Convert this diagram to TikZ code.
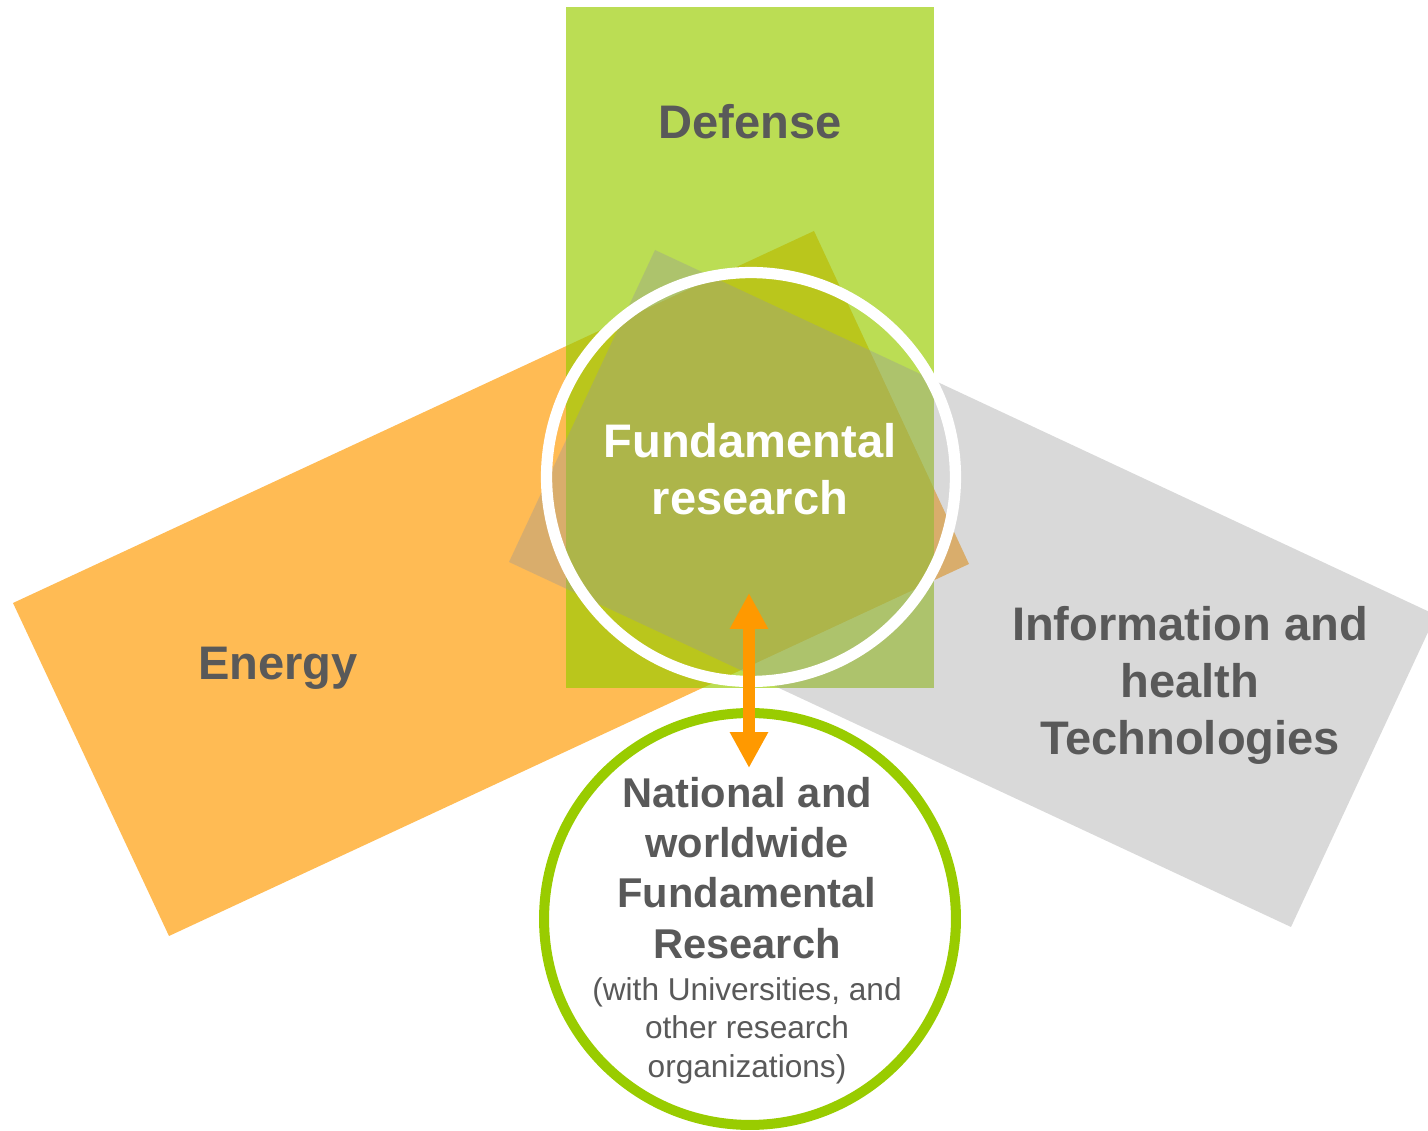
\documentclass[tikz,border=0pt]{standalone}
\usepackage{fontspec}
\setmainfont{Liberation Sans}
\usetikzlibrary{arrows.meta,positioning}

\definecolor{energyor}{HTML}{FF9900}
\definecolor{defgreen}{HTML}{99CC00}
\definecolor{techgray}{HTML}{989898}
\definecolor{txtgray}{HTML}{595959}

\begin{document}
\begin{tikzpicture}[x=0.02cm,y=-0.02cm,
  sector/.style={text=txtgray,font=\bfseries\fontsize{26.8}{32.6}\selectfont,align=center,inner sep=0pt},
  ring/.style={circle,inner sep=0pt,minimum size=#1},
  link/.style={draw=energyor,line width=6.8pt,{Triangle[width=20.4pt,length=20.4pt]}-{Triangle[width=20.4pt,length=20.4pt]}}]
  \clip (0,0) rectangle (1428,1131);

  % the three application fields
  \fill[energyor,fill opacity=0.67] (13,603) -- (814,231) -- (969,564) -- (169,936) -- cycle;
  \fill[defgreen,fill opacity=0.67] (566,7) rectangle (934,688);
  \fill[techgray,fill opacity=0.37] (655,250) -- (1436,615) -- (1291,927) -- (509,562) -- cycle;

  % multi-line nodes sit on the baseline of their last line
  \node[sector]                       (defense)    at (750,122) {Defense};
  \node[sector,anchor=base]           (energy)     at (278,680) {Energy};
  \node[sector,anchor=base]           (infohealth) at (1190,755) {Information and\\health\\Technologies};

  % core and partners
  \node[ring=8.18cm,draw=white,line width=6.4pt]            (core)  at (751,477) {};
  \node[sector,text=white,anchor=base]                      (fund)  at (750,515) {Fundamental\\research};
  \node[ring=8.24cm,draw=defgreen,fill=white,line width=5.7pt] (outer) at (750,919) {};
  \node[sector,font=\bfseries\fontsize{23.7}{28.6}\selectfont,anchor=base] (natl) at (747,958)
    {National and\\worldwide\\Fundamental\\Research};
  \node[text=txtgray,font=\fontsize{18}{21.8}\selectfont,align=center,inner sep=0pt,anchor=base] (partners) at (747,1077)
    {(with Universities, and\\other research\\organizations)};

  \coordinate (up) at (749,593);
  \coordinate (dn) at (749,768);
  \draw[link] (up) -- (dn);
\end{tikzpicture}
\end{document}
